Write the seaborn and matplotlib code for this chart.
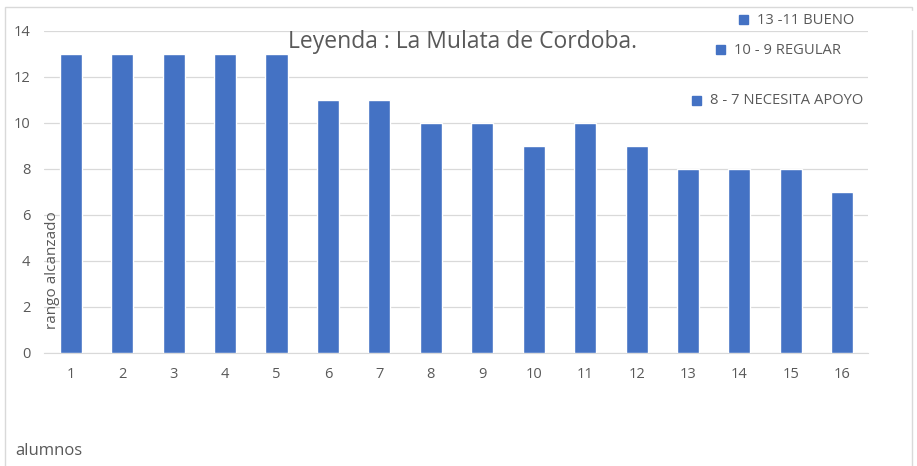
import pandas as pd
import numpy as np
import seaborn as sns
import matplotlib.pyplot as plt
from matplotlib.patches import Rectangle

# data
alumnos = [str(i) for i in range(1, 17)]
rango = [13, 13, 13, 13, 13, 11, 11, 10, 10, 9, 10, 9, 8, 8, 8, 7]
leyenda = ["13 -11 BUENO", "10 - 9 REGULAR", "8 - 7 NECESITA APOYO"]

df = pd.DataFrame({"alumnos": alumnos, "rango": rango})

sns.set_style("white")
plt.rcParams['font.family'] = ['Open Sans', 'DejaVu Sans']

fig = plt.figure(figsize=(9.17, 4.66), dpi=100, facecolor='white')
ax = fig.add_axes([0.048, 0.2425, 0.8986, 0.691])

bar_color = '#4472C4'
text_color = '#595959'

sns.barplot(data=df, x="alumnos", y="rango", color=bar_color, width=0.43,
            saturation=1, ax=ax, zorder=3)

ax.set_ylim(0, 14)
ax.set_yticks(np.arange(0, 15, 2))
ax.set_xlim(-0.52, 15.5)
ax.yaxis.grid(True, color='#D9D9D9', linewidth=0.9, zorder=0)
ax.set_axisbelow(True)
ax.set_xlabel("")
ax.set_ylabel("")
ax.tick_params(axis='both', length=0, labelsize=10.5, colors=text_color)
ax.tick_params(axis='x', pad=10)
ax.tick_params(axis='y', pad=10)
sns.despine(ax=ax, left=True, top=True, right=True)
ax.spines['bottom'].set_color('#D9D9D9')

# title
fig.text(0.504, 0.91, "Leyenda : La Mulata de Cordoba.", ha='center', va='center',
         fontsize=16.5, color=text_color)

# manual legend entries (text boxes on white background)
entries = [(739, 20), (716, 50), (692, 101)]
for (px, py), txt in zip(entries, leyenda):
    fig.add_artist(Rectangle(((px - 5) / 917, 1 - (py + 9) / 466), 180 / 917, 18 / 466,
                             transform=fig.transFigure, color='white', zorder=4))
    fig.add_artist(Rectangle((px / 917, 1 - (py + 4) / 466), 9 / 917, 9 / 466,
                             transform=fig.transFigure, color=bar_color, zorder=5))
    fig.text((px + 18) / 917, 1 - py / 466, txt, ha='left', va='center',
             fontsize=10.6, color=text_color, zorder=6)

# axis titles
fig.text(52 / 917, 1 - 270 / 466, "rango alcanzado", rotation=90, ha='center',
         va='center', fontsize=11, color=text_color)
fig.text(15 / 917, 1 - 451 / 466, "alumnos", ha='left', va='center',
         fontsize=12, color=text_color)

# chart border
fig.add_artist(Rectangle((5 / 917, -0.01), 907 / 917, 1 - 7 / 466 + 0.01,
                         transform=fig.transFigure, fill=False,
                         edgecolor='#D9D9D9', linewidth=1))

fig.savefig("out.png", dpi=100, facecolor='white')
